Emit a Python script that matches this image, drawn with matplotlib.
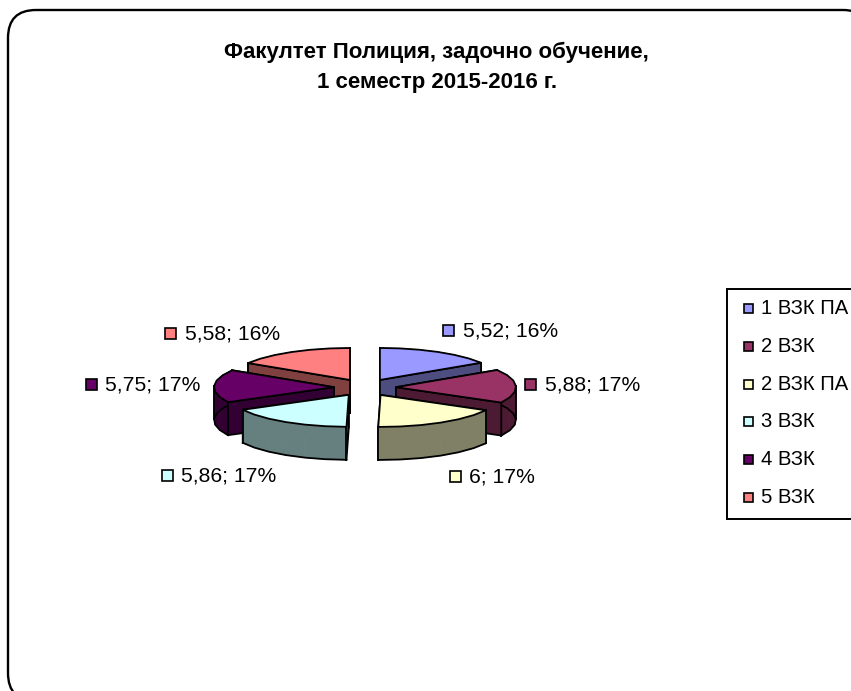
# -*- coding: utf-8 -*-
import numpy as np
import matplotlib
matplotlib.use("Agg")
import matplotlib.pyplot as plt
from matplotlib.patches import FancyBboxPatch, Polygon, Rectangle

# data
categories = ['1 ВЗК ПА', '2 ВЗК', '2 ВЗК ПА', '3 ВЗК', '4 ВЗК', '5 ВЗК']
values = [5.52, 5.88, 6, 5.86, 5.75, 5.58]
colors = ['#9999FF', '#993366', '#FFFFCC', '#CCFFFF', '#660066', '#FF8080']
side_colors = ['#4D4D80', '#4D1A33', '#808066', '#668080', '#330033', '#804040']

# pixel coordinates, same as the reference
W, H = 851, 691
plt.rcParams['font.family'] = ['Liberation Sans', 'DejaVu Sans']
fig = plt.figure(figsize=(W / 100, H / 100), dpi=100)
ax = fig.add_axes([0, 0, 1, 1])
ax.set_xlim(0, W)
ax.set_ylim(H, 0)
ax.axis('off')

# outer frame
(fx0, fy0, fx1, fy1, fr) = (8, 10, 871, 701, 28)
ax.add_patch(FancyBboxPatch((fx0 + fr, fy0 + fr), fx1 - fx0 - 2 * fr, fy1 - fy0 - 2 * fr,
                            boxstyle='round,pad=%d,rounding_size=%d' % (fr, fr),
                            fc='white', ec='black', lw=1.7, clip_on=True))

# title
ax.text(436, 52, 'Факултет Полиция, задочно обучение,', ha='center', va='center',
        fontsize=16, fontweight='bold')
ax.text(437, 82, '1 семестр 2015-2016 г.', ha='center', va='center',
        fontsize=16, fontweight='bold')

# pie geometry
(cx, cy) = (365, 387.5)
(rx, ry) = (120, 32)
(ex, ey) = (31, 8.6)
depth = 33
edge_lw = 1.3

total = sum(values)
edges = np.cumsum([0] + values) / total * 2 * np.pi


def point(x0, y0, a):
    return (x0 + rx * np.sin(a), y0 - ry * np.cos(a))


def drop(pts):
    return [(x, y + depth) for (x, y) in pts[::-1]]


def draw_rim(arc, i):
    # one quad per arc segment, black only on the outline of the band
    for k in range(len(arc) - 1):
        seg = arc[k:k + 2]
        ax.add_patch(Polygon(seg + drop(seg), closed=True, fc=side_colors[i], ec=side_colors[i], lw=0.6))
    low = drop(arc)
    ax.plot([p[0] for p in low], [p[1] for p in low], color='black', lw=edge_lw, zorder=1)
    xs = [p[0] for p in arc]
    for k in sorted({0, len(arc) - 1, int(np.argmax(xs)), int(np.argmin(xs))}):
        ax.plot([arc[k][0], arc[k][0]], [arc[k][1], arc[k][1] + depth], color='black', lw=edge_lw, zorder=1)


def draw_wedge(i):
    (a0, a1) = (edges[i], edges[i + 1])
    mid = (a0 + a1) / 2
    x0 = cx + ex * np.sin(mid)
    y0 = cy - ey * np.cos(mid)
    arc = [point(x0, y0, a) for a in np.linspace(a0, a1, 7)]
    top = [(x0, y0)] + arc

    # side faces, far ones first
    faces = [[(x0, y0), arc[0]], arc, [arc[-1], (x0, y0)]]
    faces.sort(key=lambda f: np.mean([p[1] for p in f]))
    for f in faces:
        if f is arc:
            draw_rim(arc, i)
        else:
            ax.add_patch(Polygon(f + drop(f), closed=True, fc=side_colors[i], ec='black',
                                 lw=edge_lw, joinstyle='round'))
    ax.add_patch(Polygon(top, closed=True, fc=colors[i], ec='black', lw=edge_lw, joinstyle='round'))


for i in [5, 0, 4, 1, 3, 2]:
    draw_wedge(i)

# data labels
key_x = [448, 530, 455, 167, 91, 170]
key_y = [330, 384, 476, 475, 384, 333]
text_x = [463, 545, 469, 181, 105, 185]
for i in range(len(values)):
    pct = round(values[i] / total * 100)
    label = '%s; %d%%' % (str(values[i]).replace('.', ','), pct)
    ax.add_patch(Rectangle((key_x[i] - 5.5, key_y[i] - 5.5), 11, 11, fc=colors[i], ec='black', lw=1.2))
    ax.text(text_x[i], key_y[i] + 0.5, label, ha='left', va='center', fontsize=15.2, color='black')

# legend
ax.add_patch(Rectangle((726.5, 289), 140, 230, fc='white', ec='black', lw=1.4))
legend_y = [308, 346, 384, 421, 459, 497]
for i in range(len(categories)):
    ax.add_patch(Rectangle((743.5, legend_y[i] - 4.5), 9, 9, fc=colors[i], ec='black', lw=1.2))
    ax.text(761, legend_y[i] + 0.5, categories[i], ha='left', va='center', fontsize=14.6, color='black')

fig.savefig('out.png', dpi=100)
